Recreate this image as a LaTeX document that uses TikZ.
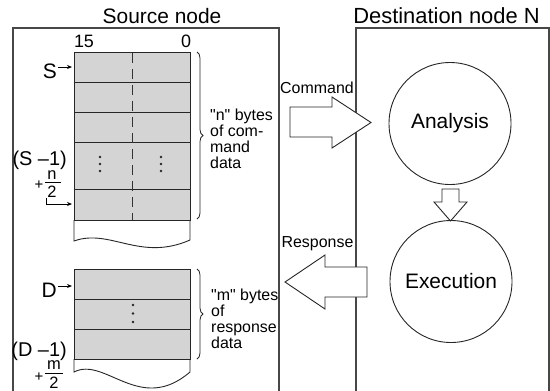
\documentclass[tikz,border=0pt]{standalone}
\usepackage{fontspec}
\setmainfont{Liberation Sans}[Ligatures=TeXOff]
\usetikzlibrary{decorations.pathreplacing,arrows.meta}
\begin{document}
\begin{tikzpicture}[x=1bp,y=-1bp,
  boxline/.style={draw=black!72,line width=1.3bp},
  cellline/.style={draw=black!85,line width=0.9bp},
  cellfill/.style={fill=black!17},
  title/.style={inner sep=0pt,anchor=base,font=\fontsize{21}{21}\selectfont},
  big/.style={inner sep=0pt,font=\fontsize{20}{20}\selectfont},
  small/.style={inner sep=0pt,anchor=base west,font=\fontsize{16}{16}\selectfont},
  frac/.style={inner sep=0pt,anchor=base,font=\fontsize{16.5}{16.5}\selectfont},
  blockarrow/.style={draw=black!85,fill=white,line width=0.9bp,line join=miter},
  ptr/.style={draw=black,line width=0.8bp,-{Stealth[length=5bp,width=4bp]}},
  bracedeco/.style={draw=black!85,line width=0.8bp,decorate,decoration={brace,amplitude=6bp}},
  dot/.style={circle,fill=black!85,inner sep=0pt,minimum size=2.6bp},
  proc/.style={circle,draw=black!85,line width=0.9bp,minimum size=122bp,inner sep=0pt,font=\fontsize{21}{21}\selectfont}]
\useasboundingbox (0,0) rectangle (550,390);
\clip (0,0) rectangle (550,390);

% titles
\node[title] (srctitle) at (162,23) {Source node};
\node[title,font=\fontsize{22}{22}\selectfont] (dsttitle) at (446.5,23) {Destination node N};

% outer boxes (open at bottom)
\draw[boxline] (13,392) -- (13,28) -- (279,28) -- (279,392);
\draw[boxline] (356,392) -- (356,28) -- (549,28) -- (549,392);

% ---- command table
\fill[cellfill] (74,52) rectangle (190,220);
\draw[cellline] (74,52) rectangle (190,220);
\foreach \yy in {82,112,142,189} \draw[cellline] (74,\yy) -- (190,\yy);
\draw[black!80,line width=0.8bp,dash pattern=on 10bp off 6bp] (132,53) -- (132,220);
\draw[cellline] (74,220) -- (74,241) .. controls (110,228) and (140,262) .. (190,240) -- (190,220);
\foreach \yy in {157,164,171} {\node[dot] at (100,\yy) {}; \node[dot] at (161,\yy) {};}

\node[inner sep=0pt,anchor=base,font=\fontsize{18}{18}\selectfont] (b15) at (84,47) {15};
\node[inner sep=0pt,anchor=base,font=\fontsize{18}{18}\selectfont] (b0) at (186,47) {0};

\node[big,anchor=base east,font=\fontsize{21}{21}\selectfont] (S) at (57,78) {S};
\coordinate (Sfrom) at (58,67);
\coordinate (Sto) at (72,67);
\draw[ptr] (Sfrom) -- (Sto);

\node[big,anchor=base east] (Send) at (67,165) {(S –1)};
\node[inner sep=0pt,font=\fontsize{15}{15}\selectfont] (Splus) at (39,185.5) {+};
\node[frac] (Sn) at (52,179.5) {n};
\draw[black,line width=0.9bp] (45,182.5) -- (61,182.5);
\node[frac] (S2) at (52,197) {2};
\coordinate (Sbstart) at (46,198);
\coordinate (Sbend) at (46,204);
\coordinate (Sbendto) at (72,204);
\draw[ptr] (Sbstart) -- (Sbend) -- (Sbendto);

\draw[bracedeco] (197,52) -- (197,219);
\node[small] (n1) at (210,120) {"n" bytes};
\node[small] (n2) at (210,136) {of com-};
\node[small] (n3) at (210,152) {mand};
\node[small] (n4) at (210,168) {data};

% ---- response table
\fill[cellfill] (74,269) rectangle (190,359);
\draw[cellline] (74,269) rectangle (190,359);
\foreach \yy in {299,329} \draw[cellline] (74,\yy) -- (190,\yy);
\draw[cellline] (74,359) -- (74,372) .. controls (105,356) and (140,415) .. (190,372) -- (190,359);
\foreach \yy in {305,313.5,322} \node[dot] at (133,\yy) {};

\node[big,anchor=base east,font=\fontsize{21}{21}\selectfont] (D) at (57,297) {D};
\coordinate (Dfrom) at (58,286);
\coordinate (Dto) at (72,286);
\draw[ptr] (Dfrom) -- (Dto);

\node[big,anchor=base east] (Dend) at (67,356) {(D –1)};
\node[inner sep=0pt,font=\fontsize{15}{15}\selectfont] (Dplus) at (39,377) {+};
\node[frac] (Dm) at (54,369.5) {m};
\draw[black,line width=0.9bp] (45,373) -- (63,373);
\node[frac] (D2) at (54,388) {2};

\draw[bracedeco] (197,269) -- (197,359);
\node[small] (m1) at (211,300) {"m" bytes};
\node[small] (m2) at (211,316) {of};
\node[small] (m3) at (211,332) {response};
\node[small] (m4) at (211,348) {data};

% ---- block arrows
\draw[blockarrow] (290,107) -- (332,107) -- (332,97) -- (371,122.5) -- (332,148) -- (332,137) -- (290,137) -- cycle;
\node[inner sep=0pt,anchor=base,font=\fontsize{16}{16}\selectfont] (cmd) at (317,93) {Command};

\draw[blockarrow] (367,267) -- (325,267) -- (325,255) -- (285,282) -- (325,309) -- (325,297) -- (367,297) -- cycle;
\node[inner sep=0pt,anchor=base,font=\fontsize{16}{16}\selectfont] (resp) at (317.5,247) {Response};

% ---- processes
\node[proc] (ana) at (450,123.5) {Analysis};
\node[proc] (exe) at (451,281.5) {Execution};
\draw[blockarrow] (442,189) -- (459,189) -- (459,202) -- (467,202) -- (450.5,221) -- (434,202) -- (442,202) -- cycle;
\end{tikzpicture}
\end{document}
